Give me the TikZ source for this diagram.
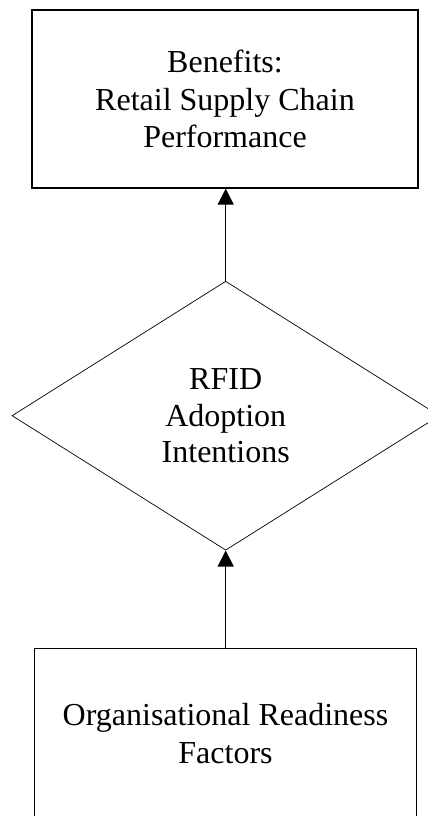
\documentclass[tikz,border=0pt]{standalone}
\usepackage{fontspec}
\setmainfont{Liberation Serif}
\usetikzlibrary{shapes.geometric,arrows.meta}
\tikzset{
  boxnode/.style={draw=black,line width=1.3pt,rectangle,inner sep=0pt,align=center,
    font=\fontsize{32}{37.5}\selectfont},
  diamondnode/.style={draw=black,line width=0.7pt,diamond,inner sep=0pt,align=center,
    aspect=1.59,font=\fontsize{32}{36.5}\selectfont},
  flowarrow/.style={line width=1.4pt,-{Triangle[length=16pt,width=16pt]}}
}
\begin{document}
\begin{tikzpicture}[x=1pt,y=-1pt]
\useasboundingbox (0,0) rectangle (428,816);
\node[boxnode,minimum width=386pt,minimum height=178pt] (benefits) at (225,99)
  {Benefits:\\Retail Supply Chain\\Performance};
\node[diamondnode,minimum width=427.4pt,minimum height=269pt] (rfid) at (225.7,415.7)
  {RFID\\Adoption\\Intentions};
\node[boxnode,minimum width=382.4pt,minimum height=169.3pt] (readiness) at (225.5,733.3)
  {Organisational Readiness\\Factors};
\draw[flowarrow] (rfid.north) -- (rfid.north |- benefits.south);
\draw[flowarrow] (readiness.north -| rfid.south) -- (rfid.south);
\end{tikzpicture}
\end{document}
